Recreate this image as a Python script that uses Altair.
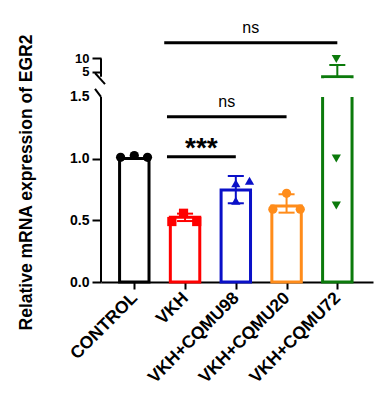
import json
import altair as alt
import pandas as pd

# ---------------- data ----------------
groups = ["CONTROL", "VKH", "VKH+CQMU98", "VKH+CQMU20", "VKH+CQMU72"]
colors = ["#000000", "#ff0000", "#0a10c8", "#ff8c1a", "#0b7a0b"]
shapes = ["circle", "square", "triangle-up", "circle", "triangle-down"]
means = [1.0, 0.524, 0.746, 0.616, 3.2]
err_up = [0.0, 0.03, 0.113, 0.095, 4.4]
err_dn = [0.0, 0.03, 0.108, 0.054, 0.0]
points = [
    [1.01, 1.025, 1.01],
    [0.49, 0.557, 0.49],
    [0.80, 0.821, 0.659],
    [0.59, 0.719, 0.59],
    [1.0, 0.62, 9.8],
]
point_offsets = [
    [-0.27, 0.0, 0.26],
    [-0.26, -0.03, 0.23],
    [0.0, 0.27, 0.0],
    [-0.27, 0.0, 0.27],
    [-0.02, -0.02, -0.02],
]
sig_from = [0.644, 0.644, 0.59]
sig_to = [2, 3, 4]
sig_level = [1.015, 1.34, 15.8]
sig_text = ["***", "ns", "ns"]
y_ticks = [0, 0.5, 1.0, 1.5, 5, 10]
y_tick_labels = ["0.0", "0.5", "1.0", "1.5", "5", "10"]

# ---------------- broken axis mapping ----------------
LOW_TOP = 1.5
UP_BASE = 1.7018   # display position of value 5
UP_K = 0.02188     # display units per value unit in the upper segment
UP_BOTTOM = 3.25   # lowest value shown in the upper segment


def brk(v):
    return v if v <= LOW_TOP else UP_BASE + (v - 5) * UP_K


W, H = 272, 272
Y_DOMAIN = [0, 2.2042]
X_DOMAIN = [-0.656, 4.703]
HALF = 0.29
CAP = 0.158
FONT = "Liberation Sans"

tick_pos = [brk(v) for v in y_ticks]
y_label_expr = (
    "datum.value > 1.75 ? '10' : datum.value > 1.6 ? '5' : format(datum.value, '.1f')"
)
x_label_expr = json.dumps(groups) + "[datum.value]"

x_axis = alt.Axis(
    values=list(range(len(groups))), labelExpr=x_label_expr, title=None,
    labelAngle=315, labelAlign="right", labelBaseline="middle",
    labelOverlap=False, labelBound=False, labelFlush=False,
    labelFont=FONT, labelFontSize=17.5, labelFontWeight="bold", labelColor="black",
    labelPadding=6, tickSize=7, tickWidth=2, tickColor="black",
    domainColor="black", domainWidth=2, grid=False,
)
y_axis = alt.Axis(
    values=tick_pos, labelExpr=y_label_expr, title="Relative mRNA expression of EGR2",
    labelOverlap=False, labelBound=False, labelFlush=False,
    labelFont=FONT, labelFontWeight="bold", labelColor="black",
    labelFontSize={"condition": {"test": "datum.value > 1.6", "value": 13}, "value": 14},
    labelPadding=3, tickSize=9, tickWidth=2, tickColor="black",
    tickOpacity={"condition": {"test": "datum.value == 1.5", "value": 0}, "value": 1},
    domain=False, grid=False,
    titleFont=FONT, titleFontSize=17.5, titleFontWeight="bold", titleColor="black",
    titleAngle=270, titleX=-75, titleY=172, titleAlign="center", titleBaseline="middle",
)


def X(field):
    return alt.X(field, type="quantitative",
                 scale=alt.Scale(domain=X_DOMAIN, nice=False, zero=False), axis=x_axis)


def Y(field):
    return alt.Y(field, type="quantitative",
                 scale=alt.Scale(domain=Y_DOMAIN, nice=False, zero=False), axis=y_axis)


stroke_scale = alt.Scale(domain=groups, range=colors)
shape_scale = alt.Scale(domain=groups, range=shapes)

# ---------------- tables ----------------
bar_df = pd.DataFrame({
    "group": groups,
    "x": [i - HALF for i in range(len(groups))],
    "x2": [i + HALF for i in range(len(groups))],
    "y": [0.0] * len(groups),
    "y2": [brk(m) for m in means],
})

err_rows = []
for i, g in enumerate(groups):
    if err_up[i] > 0:
        err_rows.append({"group": g, "xc": i, "xl": i - CAP, "xr": i + CAP,
                         "y": brk(means[i]), "y2": brk(means[i] + err_up[i])})
    if err_dn[i] > 0:
        err_rows.append({"group": g, "xc": i, "xl": i - CAP, "xr": i + CAP,
                         "y": brk(means[i]), "y2": brk(means[i] - err_dn[i])})
err_df = pd.DataFrame(err_rows)

pt_rows = []
for i, g in enumerate(groups):
    for v, o in zip(points[i], point_offsets[i]):
        pt_rows.append({"group": g, "x": i + o, "y": brk(v)})
pt_df = pd.DataFrame(pt_rows)

sig_df = pd.DataFrame({
    "x": sig_from, "x2": sig_to, "y": [brk(v) for v in sig_level], "label": sig_text,
    "xm": [(a + b) / 2 for a, b in zip(sig_from, sig_to)],
})

# green gap mask (hides the part of the tall bar inside the axis break)
gi = len(groups) - 1
mask_df = pd.DataFrame({"x": [gi - HALF - 0.06], "x2": [gi + HALF + 0.06],
                        "y": [LOW_TOP], "y2": [brk(UP_BOTTOM) - 0.012]})

axis_df = pd.DataFrame({
    "y": [0.0, brk(UP_BOTTOM)],
    "y2": [LOW_TOP, brk(10)],
})
diag_df = pd.DataFrame({
    "y": [brk(UP_BOTTOM) + 0.03, LOW_TOP + 0.065],
    "y2": [brk(UP_BOTTOM) - 0.06, LOW_TOP],
    "xa": [-6, -6], "xb": [4, 0],
})

# ---------------- layers ----------------
bars = alt.Chart(bar_df).mark_bar(fill="white", strokeWidth=3).encode(
    x=X("x"), x2="x2", y=Y("y"), y2="y2",
    stroke=alt.Stroke("group:N", scale=stroke_scale, legend=None),
)
mask = alt.Chart(mask_df).mark_rect(fill="white").encode(
    x=X("x"), x2="x2", y=Y("y"), y2="y2")
err_v = alt.Chart(err_df).mark_rule(strokeWidth=2).encode(
    x=X("xc"), y=Y("y"), y2="y2",
    color=alt.Color("group:N", scale=stroke_scale, legend=None))
err_c = alt.Chart(err_df).mark_rule(strokeWidth=2).encode(
    x=X("xl"), x2="xr", y=Y("y2"),
    color=alt.Color("group:N", scale=stroke_scale, legend=None))
pts = alt.Chart(pt_df).mark_point(filled=True, size=85, opacity=1).encode(
    x=X("x"), y=Y("y"),
    color=alt.Color("group:N", scale=stroke_scale, legend=None),
    shape=alt.Shape("group:N", scale=shape_scale, legend=None))
sig_lines = alt.Chart(sig_df).mark_rule(strokeWidth=3, color="black").encode(
    x=X("x"), x2="x2", y=Y("y"))
sig_ns = alt.Chart(sig_df).transform_filter("datum.label == 'ns'").mark_text(
    font=FONT, fontSize=16, color="black", baseline="alphabetic", dy=-10).encode(
    x=X("xm"), y=Y("y"), text="label:N")
sig_star = alt.Chart(sig_df).transform_filter("datum.label != 'ns'").mark_text(
    font=FONT, fontSize=28, fontWeight="bold", color="black", baseline="alphabetic",
    dy=0).encode(x=X("xm"), y=Y("y"), text="label:N")
axis_lines = alt.Chart(axis_df).mark_rule(strokeWidth=2, color="black").encode(
    x=alt.value(0), y=Y("y"), y2="y2")
diags = alt.Chart(diag_df).mark_rule(strokeWidth=2, color="black").encode(
    x=alt.X("xa:Q", scale=None), x2="xb", y=Y("y"), y2="y2")

chart = alt.layer(
    bars, mask, err_v, err_c, pts, sig_lines, sig_ns, sig_star, axis_lines, diags
).properties(
    width=W, height=H,
    autosize=alt.AutoSizeParams(type="none"),
    padding={"left": 93, "top": 2, "right": 4, "bottom": 115},
    background="white",
).configure_view(stroke=None)

chart.save("out.html", embed_options={"renderer": "svg", "actions": False})
